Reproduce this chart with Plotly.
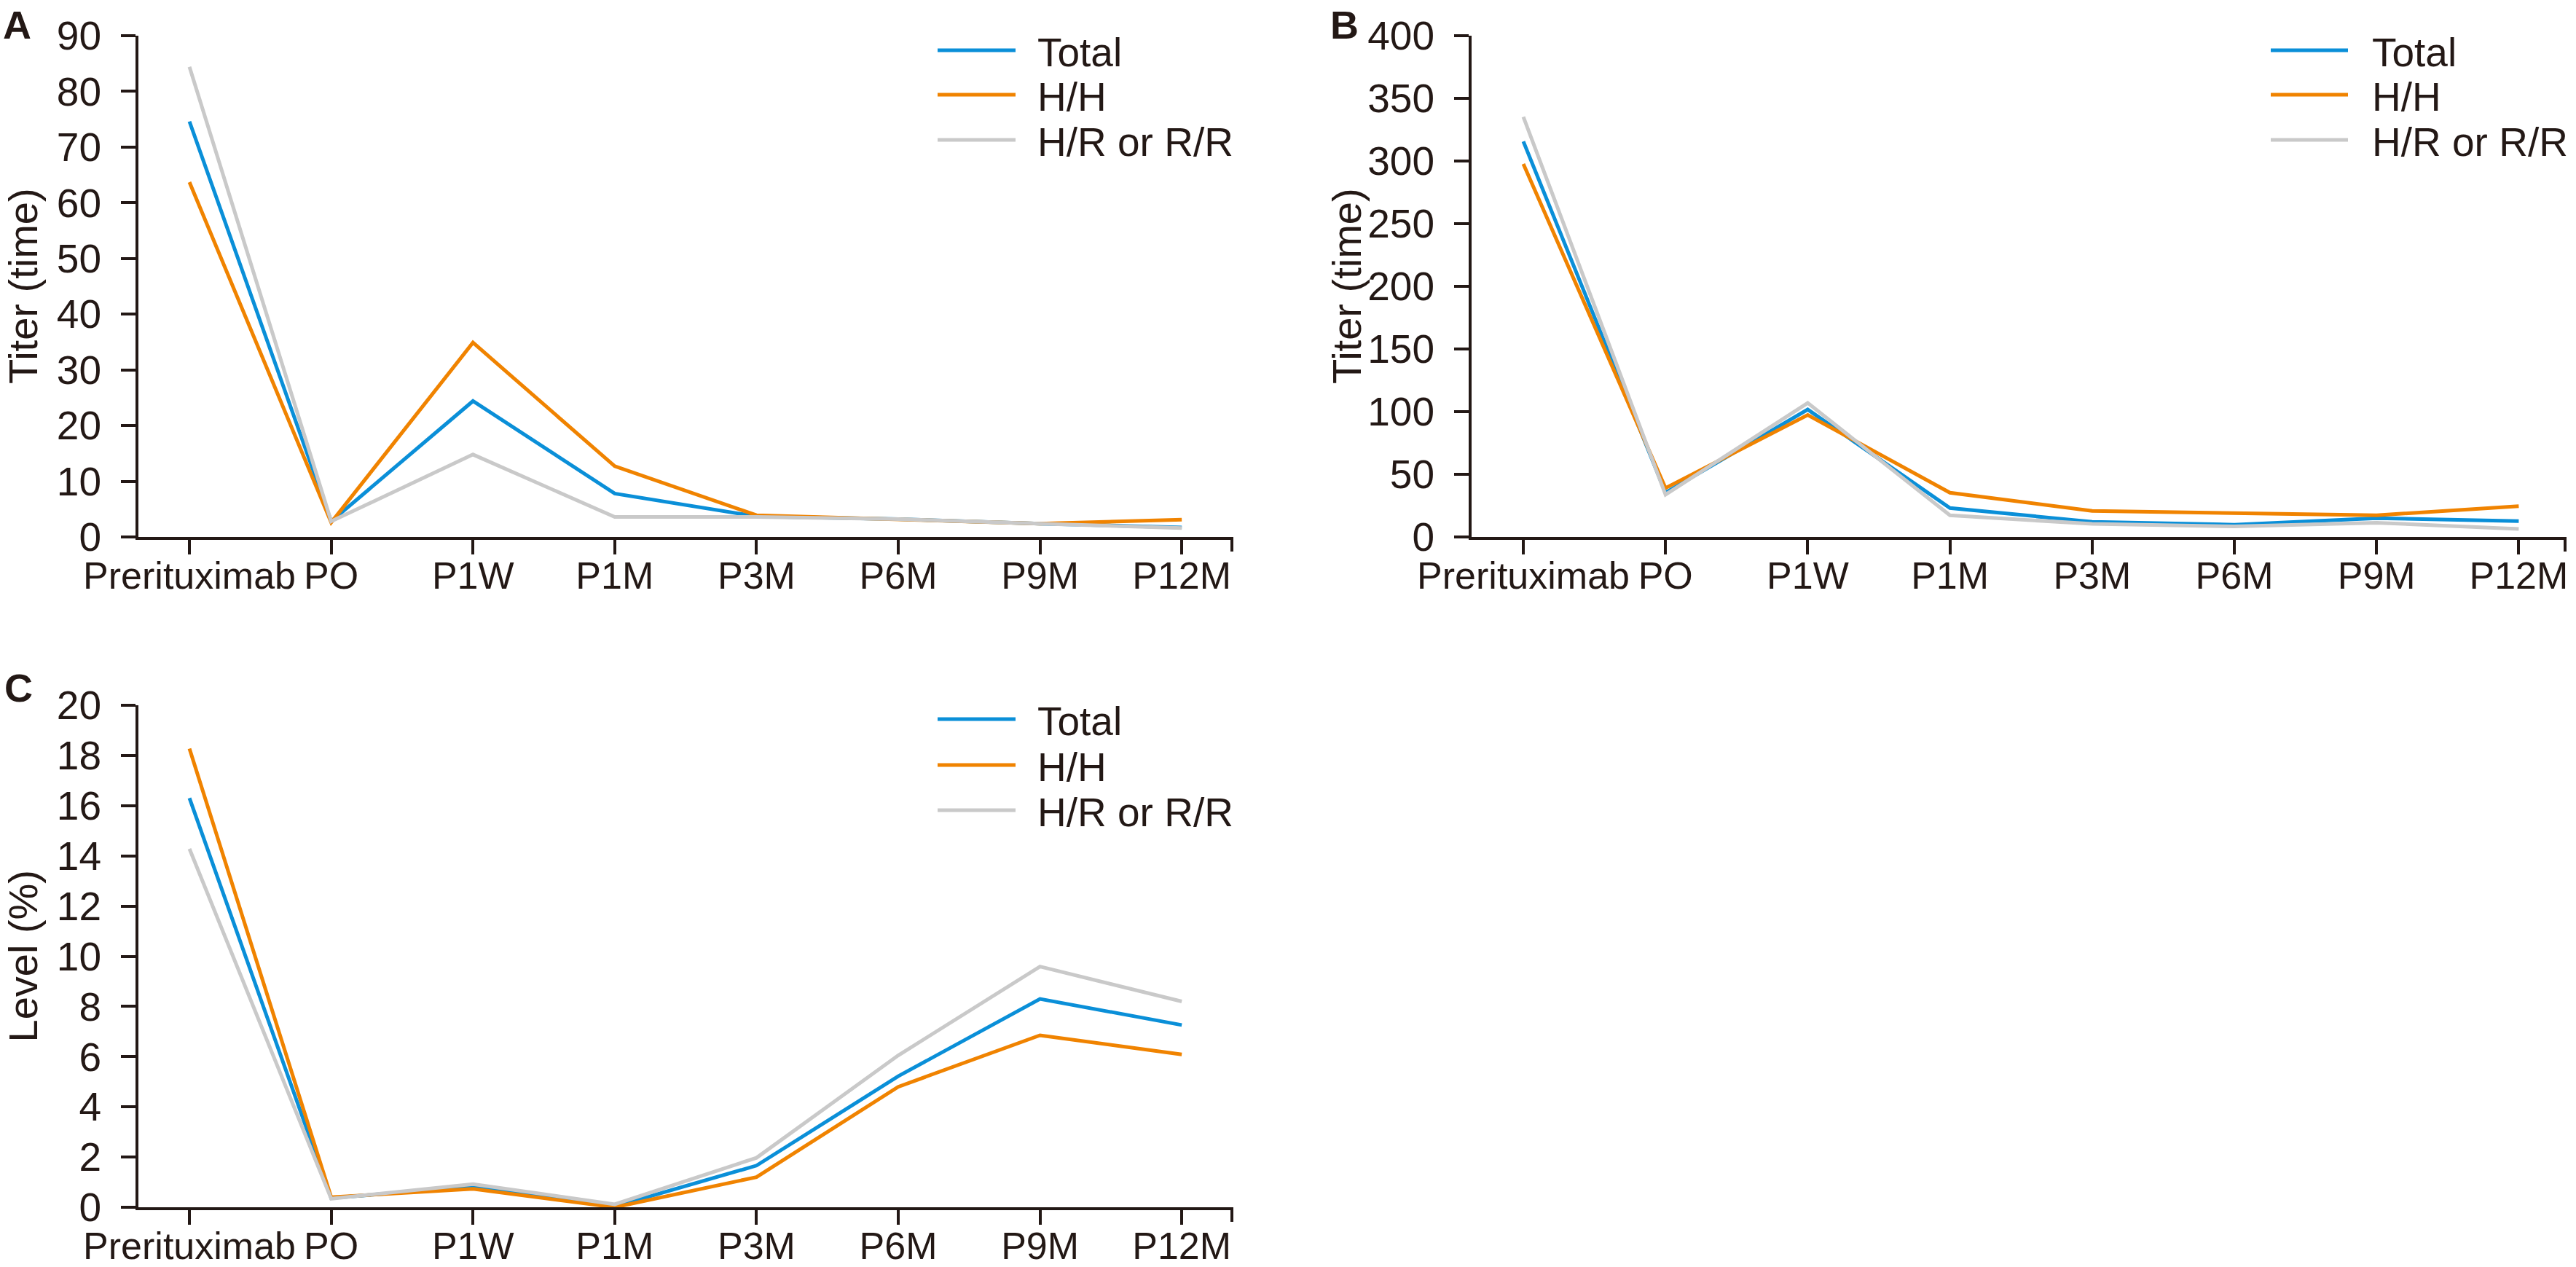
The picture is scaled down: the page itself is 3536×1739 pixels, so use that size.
import plotly.graph_objects as go

# ---------------- data ----------------
categories = ["Prerituximab", "PO", "P1W", "P1M", "P3M", "P6M", "P9M", "P12M"]
series_names = ["Total", "H/H", "H/R or R/R"]

a_total = [74.6, 2.8, 24.4, 7.8, 3.7, 3.2, 2.4, 1.7]
a_hh = [63.7, 2.6, 34.9, 12.7, 3.9, 3.2, 2.4, 3.1]
a_hr = [84.4, 2.8, 14.8, 3.6, 3.6, 3.2, 2.4, 1.6]

b_total = [315.6, 35.3, 101.7, 23.1, 12.1, 9.8, 15.0, 12.7]
b_hh = [297.7, 39.0, 97.4, 35.3, 20.8, 18.8, 17.3, 24.6]
b_hr = [335.3, 33.8, 106.9, 17.3, 10.4, 8.4, 11.3, 6.4]

c_total = [16.3, 0.37, 0.81, 0.03, 1.66, 5.22, 8.3, 7.26]
c_hh = [18.27, 0.4, 0.73, 0.0, 1.2, 4.8, 6.85, 6.09]
c_hr = [14.28, 0.34, 0.92, 0.12, 1.97, 6.05, 9.59, 8.2]

a_ticks = list(range(0, 91, 10))
b_ticks = list(range(0, 401, 50))
c_ticks = list(range(0, 21, 2))

# ---------------- style ----------------
W, H = 3536, 1739
INK = "#231815"
COLORS = ["#0a8fd8", "#f08300", "#c9c9c9"]
FONT = "Liberation Sans, Arial, sans-serif"
LW = 5


def px(x):
    return x / W


def py(y):
    return 1 - y / H


panels = [
    dict(key="", data=[a_total, a_hh, a_hr], ticks=a_ticks, xd=(190, 1693), yd=(49, 737),
         xr=(-0.36, 7.364), yr=(0, 90), ytitle="Titer (time)", title_x=31, letter="A",
         letter_xy=(23, 34), leg_x=(1287, 1394, 1423), leg_y=(69, 130, 192)),
    dict(key="2", data=[b_total, b_hh, b_hr], ticks=b_ticks, xd=(2020, 3523), yd=(49, 737),
         xr=(-0.364, 7.336), yr=(0, 400), ytitle="Titer (time)", title_x=1848, letter="B",
         letter_xy=(1845, 34), leg_x=(3117, 3223, 3255), leg_y=(69, 130, 192)),
    dict(key="3", data=[c_total, c_hh, c_hr], ticks=c_ticks, xd=(190, 1693), yd=(968, 1657),
         xr=(-0.36, 7.364), yr=(0, 20), ytitle="Level (%)", title_x=31, letter="C",
         letter_xy=(25, 944), leg_x=(1287, 1394, 1423), leg_y=(987, 1050, 1112)),
]

fig = go.Figure()
layout = dict(
    width=W, height=H, margin=dict(l=0, r=0, t=0, b=0, autoexpand=False),
    paper_bgcolor="white", plot_bgcolor="white", showlegend=False,
    font=dict(family=FONT, color=INK, size=55),
)
shapes = []
annotations = []

for p in panels:
    k = p["key"]
    xa = "x" + k
    ya = "y" + k
    for name, vals, col in zip(series_names, p["data"], COLORS):
        fig.add_trace(go.Scatter(
            x=categories, y=vals, mode="lines", name=name,
            line=dict(color=col, width=LW), cliponaxis=False,
            xaxis=xa, yaxis=ya,
        ))
    layout["xaxis" + k] = dict(
        domain=[px(p["xd"][0]), px(p["xd"][1])], anchor=ya, automargin=False,
        type="category", categoryorder="array", categoryarray=categories,
        range=list(p["xr"]), showline=True, linewidth=4, linecolor=INK,
        ticks="outside", ticklen=20, tickwidth=4, tickcolor=INK, tickangle=0,
        showgrid=False, zeroline=False,
        tickfont=dict(family=FONT, size=52, color=INK), ticklabelstandoff=-15,
    )
    layout["yaxis" + k] = dict(
        domain=[py(p["yd"][1]), py(p["yd"][0])], anchor=xa, automargin=False,
        range=list(p["yr"]), tickvals=p["ticks"], showline=True, linewidth=4, linecolor=INK,
        ticks="outside", ticklen=20, tickwidth=4, tickcolor=INK,
        showgrid=False, zeroline=False,
        tickfont=dict(family=FONT, size=55, color=INK), ticklabelstandoff=16,
    )
    # right-end tick of x axis
    shapes.append(dict(type="line", xref="paper", yref="paper",
                       x0=px(p["xd"][1] - 2), x1=px(p["xd"][1] - 2),
                       y0=py(p["yd"][1]), y1=py(p["yd"][1] + 20),
                       line=dict(color=INK, width=4)))
    # y-axis title
    annotations.append(dict(text=p["ytitle"], xref="paper", yref="paper",
                            x=px(p["title_x"]), y=py((p["yd"][0] + p["yd"][1]) / 2),
                            textangle=-90, showarrow=False, xanchor="center", yanchor="middle",
                            borderpad=0, font=dict(family=FONT, size=56, color=INK)))
    # panel letter
    annotations.append(dict(text="<b>" + p["letter"] + "</b>", xref="paper", yref="paper",
                            x=px(p["letter_xy"][0]), y=py(p["letter_xy"][1]),
                            showarrow=False, xanchor="center", yanchor="middle",
                            borderpad=0, font=dict(family=FONT, size=54, color=INK)))
    # legend
    for name, col, ly in zip(series_names, COLORS, p["leg_y"]):
        shapes.append(dict(type="line", xref="paper", yref="paper",
                           x0=px(p["leg_x"][0]), x1=px(p["leg_x"][1]),
                           y0=py(ly), y1=py(ly), line=dict(color=col, width=LW)))
        annotations.append(dict(text=name, xref="paper", yref="paper",
                                x=px(p["leg_x"][2]), y=py(ly + 3),
                                showarrow=False, xanchor="left", yanchor="middle",
                                height=54, valign="middle", borderpad=0,
                                font=dict(family=FONT, size=55, color=INK)))

layout["shapes"] = shapes
layout["annotations"] = annotations
fig.update_layout(**layout)
fig.write_html(
    "out.html",
    config={"displayModeBar": False},
    post_script="document.body.style.margin='0';document.body.style.overflow='hidden';",
)
